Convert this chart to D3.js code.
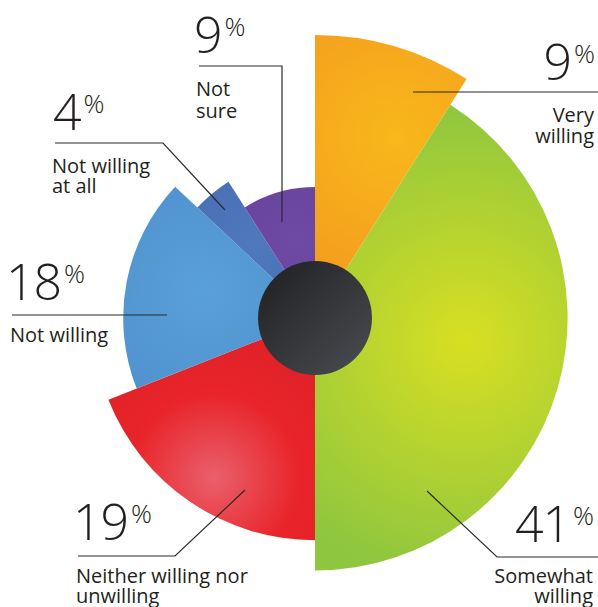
<!DOCTYPE html>
<html><head><meta charset="utf-8">
<script src="https://cdn.jsdelivr.net/npm/d3@7"></script>
<style>
html,body{margin:0;padding:0;background:#fff;}
svg{display:block;}
text{font-family:"Open Sans","Lato",sans-serif;fill:#231f20;}
</style></head>
<body>
<script>
// ---- data ----
const categories = ["Very willing","Somewhat willing","Neither willing nor unwilling","Not willing","Not willing at all","Not sure"];
const values = [9, 41, 19, 18, 4, 9];
const labelLines = [["Very","willing"],["Somewhat","willing"],["Neither willing nor","unwilling"],["Not willing"],["Not willing","at all"],["Not","sure"]];

// ---- styles / layout ----
const W = 598, H = 607, cx = 315, cy = 318;
const colors = [
  {a:"#f9b81b", b:"#ef8a1f"},
  {a:"#d9df22", b:"#8ec63f"},
  {a:"#e9606c", b:"#d51f27", m:"#e9242a"},
  {a:"#5aa0d8", b:"#4a8bc9"},
  {a:"#4f79bd", b:"#4465ad"},
  {a:"#6f4aa5", b:"#62409a"}
];
const hl = [[0.75,0.7],[0.45,0.6],[0.47,0.85],[0.55,0.6],[0.6,0.6],[0.6,0.6]]; // highlight angle frac, radius frac
const layout = [
  {anchor:"end", nx:595, ny:80, lx:594, ly:[122,143], line:[[413,92],[598,92]]},
  {anchor:"end", nx:594, ny:542, lx:593, ly:[583,603], line:[[427,491],[497,557],[598,557]]},
  {anchor:"start", nx:73, ny:540, lx:76, ly:[583,603], line:[[245,490],[175,556],[78,556]]},
  {anchor:"start", nx:6, ny:300, lx:10, ly:[342], line:[[12,315],[167,315]]},
  {anchor:"start", nx:53, ny:130, lx:52, ly:[173,193], line:[[55,143],[163,143],[225,210]]},
  {anchor:"start", nx:194, ny:53, lx:196, ly:[96,118], line:[[199,66],[282,66],[282,222]]}
];

const svg = d3.select("body").append("svg").attr("width", W).attr("height", H);
const defs = svg.append("defs");

const pie = d3.pie().sort(null).value(d => d).startAngle(0).endAngle(2*Math.PI);
const arcs = pie(values);
const rScale = d3.scaleLinear().domain([0, values.length - 1]).range([283, 131]);

arcs.forEach((a, i) => {
  const r = rScale(i);
  const ang = a.startAngle + (a.endAngle - a.startAngle) * hl[i][0];
  const hr = r * hl[i][1];
  const gx = hr * Math.sin(ang), gy = -hr * Math.cos(ang);
  const g = defs.append("radialGradient").attr("id", "g" + i)
    .attr("gradientUnits", "userSpaceOnUse")
    .attr("cx", gx).attr("cy", gy).attr("r", r * 0.95);
  g.append("stop").attr("offset", "0%").attr("stop-color", colors[i].a);
  if (colors[i].m) g.append("stop").attr("offset", "40%").attr("stop-color", colors[i].m);
  g.append("stop").attr("offset", "100%").attr("stop-color", colors[i].b);
});

const gc = defs.append("linearGradient").attr("id", "gc").attr("x1", "0").attr("y1", "0").attr("x2", "1").attr("y2", "1");
gc.append("stop").attr("offset", "0%").attr("stop-color", "#1f1f21");
gc.append("stop").attr("offset", "100%").attr("stop-color", "#4a4d52");

const arcGen = d3.arc().innerRadius(0);
const chart = svg.append("g").attr("transform", `translate(${cx},${cy})`);
chart.selectAll("path.slice").data(arcs).join("path")
  .attr("class", "slice")
  .attr("d", (d, i) => arcGen.outerRadius(rScale(i))(d))
  .attr("fill", (d, i) => `url(#g${i})`);

chart.append("circle").attr("r", 57).attr("fill", "url(#gc)");

// ---- labels ----
const lineGen = d3.line();
layout.forEach((L, i) => {
  svg.append("path").attr("d", lineGen(L.line)).attr("fill", "none")
    .attr("stroke", "#2a2a2a").attr("stroke-width", 1.2);
  const t = svg.append("text").attr("x", L.nx).attr("y", L.ny)
    .attr("text-anchor", L.anchor).style("font-weight", 300);
  t.append("tspan").text(values[i]).style("font-size", "50px").attr("letter-spacing", "-1");
  t.append("tspan").text("%").style("font-size", "26px").attr("dx", 3).attr("dy", -17);
  labelLines[i].forEach((s, k) => {
    svg.append("text").attr("x", L.lx).attr("y", L.ly[k]).attr("text-anchor", L.anchor)
      .style("font-size", "20px").text(s);
  });
});
</script>
</body></html>
